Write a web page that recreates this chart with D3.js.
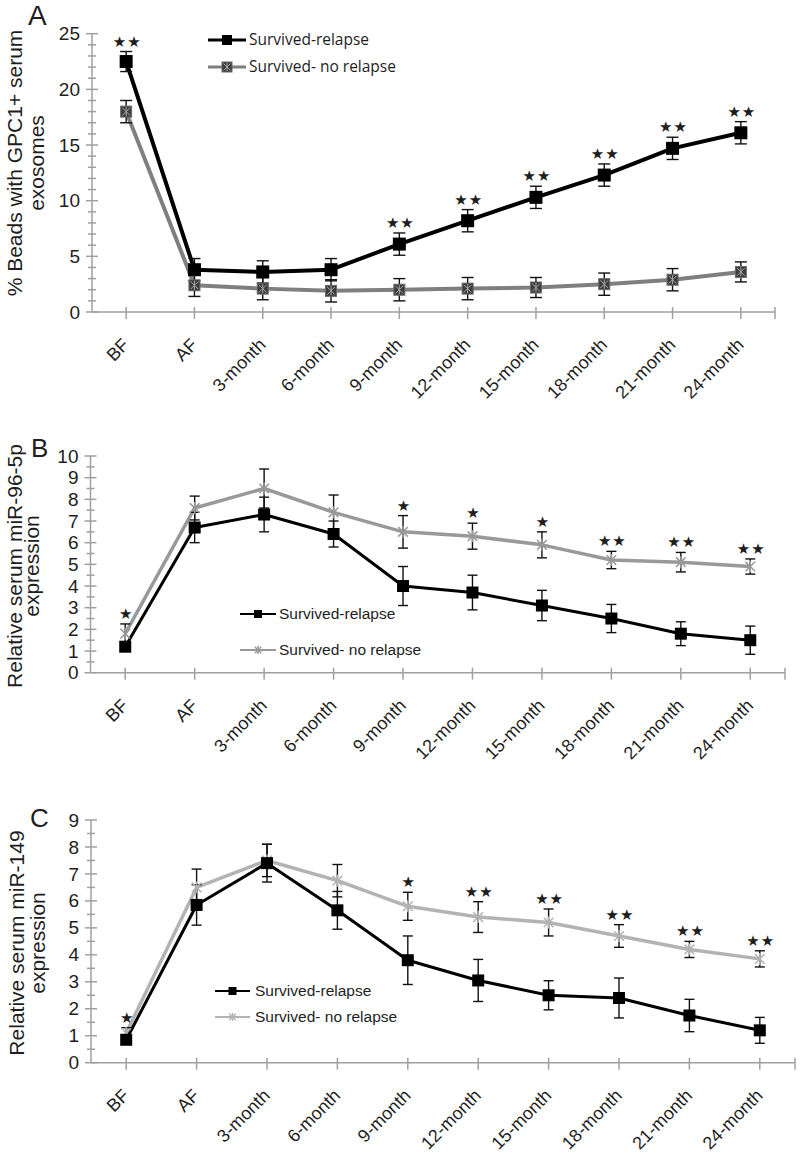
<!DOCTYPE html>
<html>
<head>
<meta charset="utf-8">
<script src="https://cdn.jsdelivr.net/npm/d3@7"></script>
<style>
  body { margin: 0; background: #fff; }
  text { font-family: "Liberation Sans", Arial, sans-serif; fill: #1e1e1e; }
</style>
</head>
<body>
<svg id="chart" width="800" height="1160"></svg>
<script>
// time points shared by the three panels
const months = ["BF", "AF", "3-month", "6-month", "9-month", "12-month", "15-month", "18-month", "21-month", "24-month"];

// panel A: % beads with GPC1+ serum exosomes
const relapseA      = [22.5, 3.8, 3.6, 3.8, 6.1, 8.2, 10.3, 12.3, 14.7, 16.1];
const relapseErrA   = [0.9, 1.0, 1.0, 1.0, 1.0, 1.0, 1.0, 1.0, 1.0, 1.0];
const noRelapseA    = [18.0, 2.4, 2.1, 1.9, 2.0, 2.1, 2.2, 2.5, 2.9, 3.6];
const noRelapseErrA = [1.0, 1.0, 1.0, 1.0, 1.0, 1.0, 0.9, 1.0, 1.0, 0.9];
const starsA        = ["**", "", "", "", "**", "**", "**", "**", "**", "**"];

// panel B: relative serum miR-96-5p expression
const relapseB      = [1.2, 6.7, 7.3, 6.4, 4.0, 3.7, 3.1, 2.5, 1.8, 1.5];
const relapseErrB   = [0.2, 0.7, 0.8, 0.6, 0.9, 0.8, 0.7, 0.65, 0.55, 0.65];
const noRelapseB    = [1.8, 7.6, 8.5, 7.4, 6.5, 6.3, 5.9, 5.2, 5.1, 4.9];
const noRelapseErrB = [0.45, 0.55, 0.9, 0.8, 0.75, 0.6, 0.6, 0.4, 0.45, 0.35];
const starsB        = ["*", "", "", "", "*", "*", "*", "**", "**", "**"];

// panel C: relative serum miR-149 expression
const relapseC      = [0.85, 5.85, 7.4, 5.65, 3.8, 3.05, 2.5, 2.4, 1.75, 1.2];
const relapseErrC   = [0.15, 0.75, 0.7, 0.7, 0.9, 0.78, 0.54, 0.74, 0.6, 0.48];
const noRelapseC    = [1.1, 6.5, 7.5, 6.75, 5.8, 5.4, 5.2, 4.7, 4.2, 3.85];
const noRelapseErrC = [0.2, 0.68, 0.6, 0.6, 0.52, 0.57, 0.5, 0.42, 0.3, 0.3];
const starsC        = ["*", "", "", "", "*", "**", "**", "**", "**", "**"];

const seriesNames = ["Survived-relapse", "Survived- no relapse"];

const panels = [
  {
    letter: "A", letterX: 28, letterY: 25, letterSize: 28,
    x0: 92, x1: 775, yTop: 33.7, yBottom: 312, yMax: 25, major: 5, minor: 1,
    title: ["% Beads with GPC1+ serum", "exosomes"], titleX: [22, 44], titleY: 163,
    series: [
      { values: relapseA, errs: relapseErrA, color: "#000", width: 4, marker: "square", ms: 13 },
      { values: noRelapseA, errs: noRelapseErrA, color: "#7f7f7f", width: 4, marker: "squareX", ms: 11 }
    ],
    stars: starsA, cap: 6,
    legend: { x0: 208, x1: 246, y: 40, dy: 27, tx: 249, font: "'Open Sans', sans-serif", size: 15.5, lw: 3, ms: 10 }
  },
  {
    letter: "B", letterX: 31, letterY: 457, letterSize: 26,
    x0: 90.5, x1: 785, yTop: 456, yBottom: 672.7, yMax: 10, major: 1, minor: 0.5,
    title: ["Relative serum miR-96-5p", "expression"], titleX: [22, 39], titleY: 566,
    series: [
      { values: relapseB, errs: relapseErrB, color: "#000", width: 3, marker: "square", ms: 12 },
      { values: noRelapseB, errs: noRelapseErrB, color: "#999", width: 3.5, marker: "asterisk", ms: 12 }
    ],
    stars: starsB, cap: 5,
    legend: { x0: 240, x1: 276, y: 614, dy: 36, tx: 279, font: "'Liberation Sans', Arial, sans-serif", size: 15.5, lw: 2, ms: 8 }
  },
  {
    letter: "C", letterX: 30, letterY: 827, letterSize: 26,
    x0: 91, x1: 795, yTop: 820, yBottom: 1062.7, yMax: 9, major: 1, minor: 0.5,
    title: ["Relative serum miR-149", "expression"], titleX: [24, 45], titleY: 943,
    series: [
      { values: relapseC, errs: relapseErrC, color: "#000", width: 3, marker: "square", ms: 12 },
      { values: noRelapseC, errs: noRelapseErrC, color: "#b3b3b3", width: 3.5, marker: "asterisk", ms: 12 }
    ],
    stars: starsC, cap: 5,
    legend: { x0: 215, x1: 250, y: 991, dy: 26, tx: 255, font: "'Liberation Sans', Arial, sans-serif", size: 15.5, lw: 2, ms: 8 }
  }
];

const svg = d3.select("#chart");
svg.append("rect").attr("width", 800).attr("height", 1160).attr("fill", "#fff");

const axisColor = "#a0a0a0";

// draws one marker of the given kind centred on (cx, cy)
function drawMarker(g, kind, cx, cy, s, color) {
  const h = s / 2;
  if (kind === "square") {
    g.append("rect").attr("x", cx - h).attr("y", cy - h).attr("width", s).attr("height", s).attr("fill", "#000");
  } else if (kind === "squareX") {
    g.append("rect").attr("x", cx - h).attr("y", cy - h).attr("width", s).attr("height", s)
      .attr("fill", "#3c3c3c").attr("stroke", "#6a6a6a").attr("stroke-width", 1);
    const k = h * 0.7;
    [[-k, -k, k, k], [-k, k, k, -k], [0, -h + 1, 0, h - 1]].forEach(l => {
      g.append("line").attr("x1", cx + l[0]).attr("y1", cy + l[1]).attr("x2", cx + l[2]).attr("y2", cy + l[3])
        .attr("stroke", "#a8a8a8").attr("stroke-width", 1);
    });
  } else {
    const k = h * 0.8;
    [[-k, -k, k, k], [-k, k, k, -k], [0, -h, 0, h]].forEach(l => {
      g.append("line").attr("x1", cx + l[0]).attr("y1", cy + l[1]).attr("x2", cx + l[2]).attr("y2", cy + l[3])
        .attr("stroke", color).attr("stroke-width", 1.5);
    });
  }
}

function drawPanel(p) {
  const g = svg.append("g");

  const x = d3.scaleBand().domain(months).range([p.x0, p.x1]).padding(0);
  const cx = d => x(d) + x.bandwidth() / 2;
  const y = d3.scaleLinear().domain([0, p.yMax]).range([p.yBottom, p.yTop]);

  // y axis with labels
  const majors = d3.range(0, p.yMax + 1e-9, p.major);
  const minors = d3.range(0, p.yMax + 1e-9, p.minor).filter(v => Math.abs(v / p.major - Math.round(v / p.major)) > 1e-6);
  const yAxis = d3.axisLeft(y).tickValues(majors).tickSize(0).tickPadding(12).tickFormat(d3.format("d"));
  const ya = g.append("g").attr("transform", `translate(${p.x0},0)`).call(yAxis);
  ya.select(".domain").remove();
  ya.selectAll("text").style("font-size", "19px").style("font-family", "'Liberation Sans', Arial, sans-serif").attr("fill", "#1e1e1e");

  const tickLines = g.append("g").attr("stroke", axisColor).attr("stroke-width", 1.5);
  majors.forEach(v => tickLines.append("line").attr("x1", p.x0 - 6).attr("x2", p.x0 + 6).attr("y1", y(v)).attr("y2", y(v)));
  minors.forEach(v => tickLines.append("line").attr("x1", p.x0 - 4).attr("x2", p.x0 + 4).attr("y1", y(v)).attr("y2", y(v)));
  tickLines.append("line").attr("x1", p.x0).attr("x2", p.x0).attr("y1", y(0)).attr("y2", y(p.yMax));
  tickLines.append("line").attr("x1", p.x0).attr("x2", p.x1).attr("y1", y(0)).attr("y2", y(0));
  months.forEach(m => tickLines.append("line").attr("x1", cx(m)).attr("x2", cx(m)).attr("y1", y(0) - 5).attr("y2", y(0) + 7));
  tickLines.append("line").attr("x1", p.x1).attr("x2", p.x1).attr("y1", y(0) - 5).attr("y2", y(0) + 7);

  // rotated category labels
  g.selectAll(".xl").data(months).join("text")
    .attr("class", "xl")
    .attr("transform", d => `translate(${cx(d) + 4},${y(0) + 34}) rotate(-45)`)
    .attr("text-anchor", "end")
    .style("font-size", "18px")
    .text(d => d);

  // axis title and panel letter
  p.title.forEach((t, i) => {
    g.append("text").attr("transform", `translate(${p.titleX[i]},${p.titleY}) rotate(-90)`)
      .attr("text-anchor", "middle").style("font-size", "21px").text(t);
  });
  g.append("text").attr("x", p.letterX).attr("y", p.letterY).style("font-size", p.letterSize + "px").text(p.letter);

  // series lines (grey first so black lies on top)
  const line = d3.line().x((d, i) => cx(months[i])).y(d => y(d));
  p.series.slice().reverse().forEach(s => {
    g.append("path").datum(s.values).attr("d", line).attr("fill", "none")
      .attr("stroke", s.color).attr("stroke-width", s.width).attr("stroke-linejoin", "round");
  });

  // error bars
  const eb = g.append("g").attr("stroke", "#111").attr("stroke-width", 1.4);
  p.series.forEach(s => {
    s.values.forEach((v, i) => {
      const xi = cx(months[i]);
      const lo = y(v - s.errs[i]), hi = y(v + s.errs[i]);
      eb.append("line").attr("x1", xi).attr("x2", xi).attr("y1", lo).attr("y2", hi);
      eb.append("line").attr("x1", xi - p.cap).attr("x2", xi + p.cap).attr("y1", lo).attr("y2", lo);
      eb.append("line").attr("x1", xi - p.cap).attr("x2", xi + p.cap).attr("y1", hi).attr("y2", hi);
    });
  });

  // markers
  const mk = g.append("g");
  p.series.slice().reverse().forEach(s => {
    s.values.forEach((v, i) => drawMarker(mk, s.marker, cx(months[i]), y(v), s.ms, s.color));
  });

  // significance stars above the highest error bar
  p.stars.forEach((st, i) => {
    if (!st) return;
    const top = d3.max(p.series, s => s.values[i] + s.errs[i]);
    g.append("text").attr("x", cx(months[i]) + 1).attr("y", y(top) - 5)
      .attr("text-anchor", "middle")
      .style("font-family", "'DejaVu Sans', sans-serif").style("font-size", "15px").style("letter-spacing", "1px")
      .text(st.replace(/\*/g, "\u2605"));
  });

  // legend
  const L = p.legend;
  p.series.forEach((s, i) => {
    const ly = L.y + i * L.dy;
    g.append("line").attr("x1", L.x0).attr("x2", L.x1).attr("y1", ly).attr("y2", ly)
      .attr("stroke", s.color).attr("stroke-width", L.lw);
    drawMarker(g, s.marker, (L.x0 + L.x1) / 2, ly, L.ms, s.color);
    g.append("text").attr("x", L.tx).attr("y", ly).attr("dy", "0.35em")
      .style("font-family", L.font).style("font-size", L.size + "px").text(seriesNames[i]);
  });
}

panels.forEach(drawPanel);
</script>
</body>
</html>
